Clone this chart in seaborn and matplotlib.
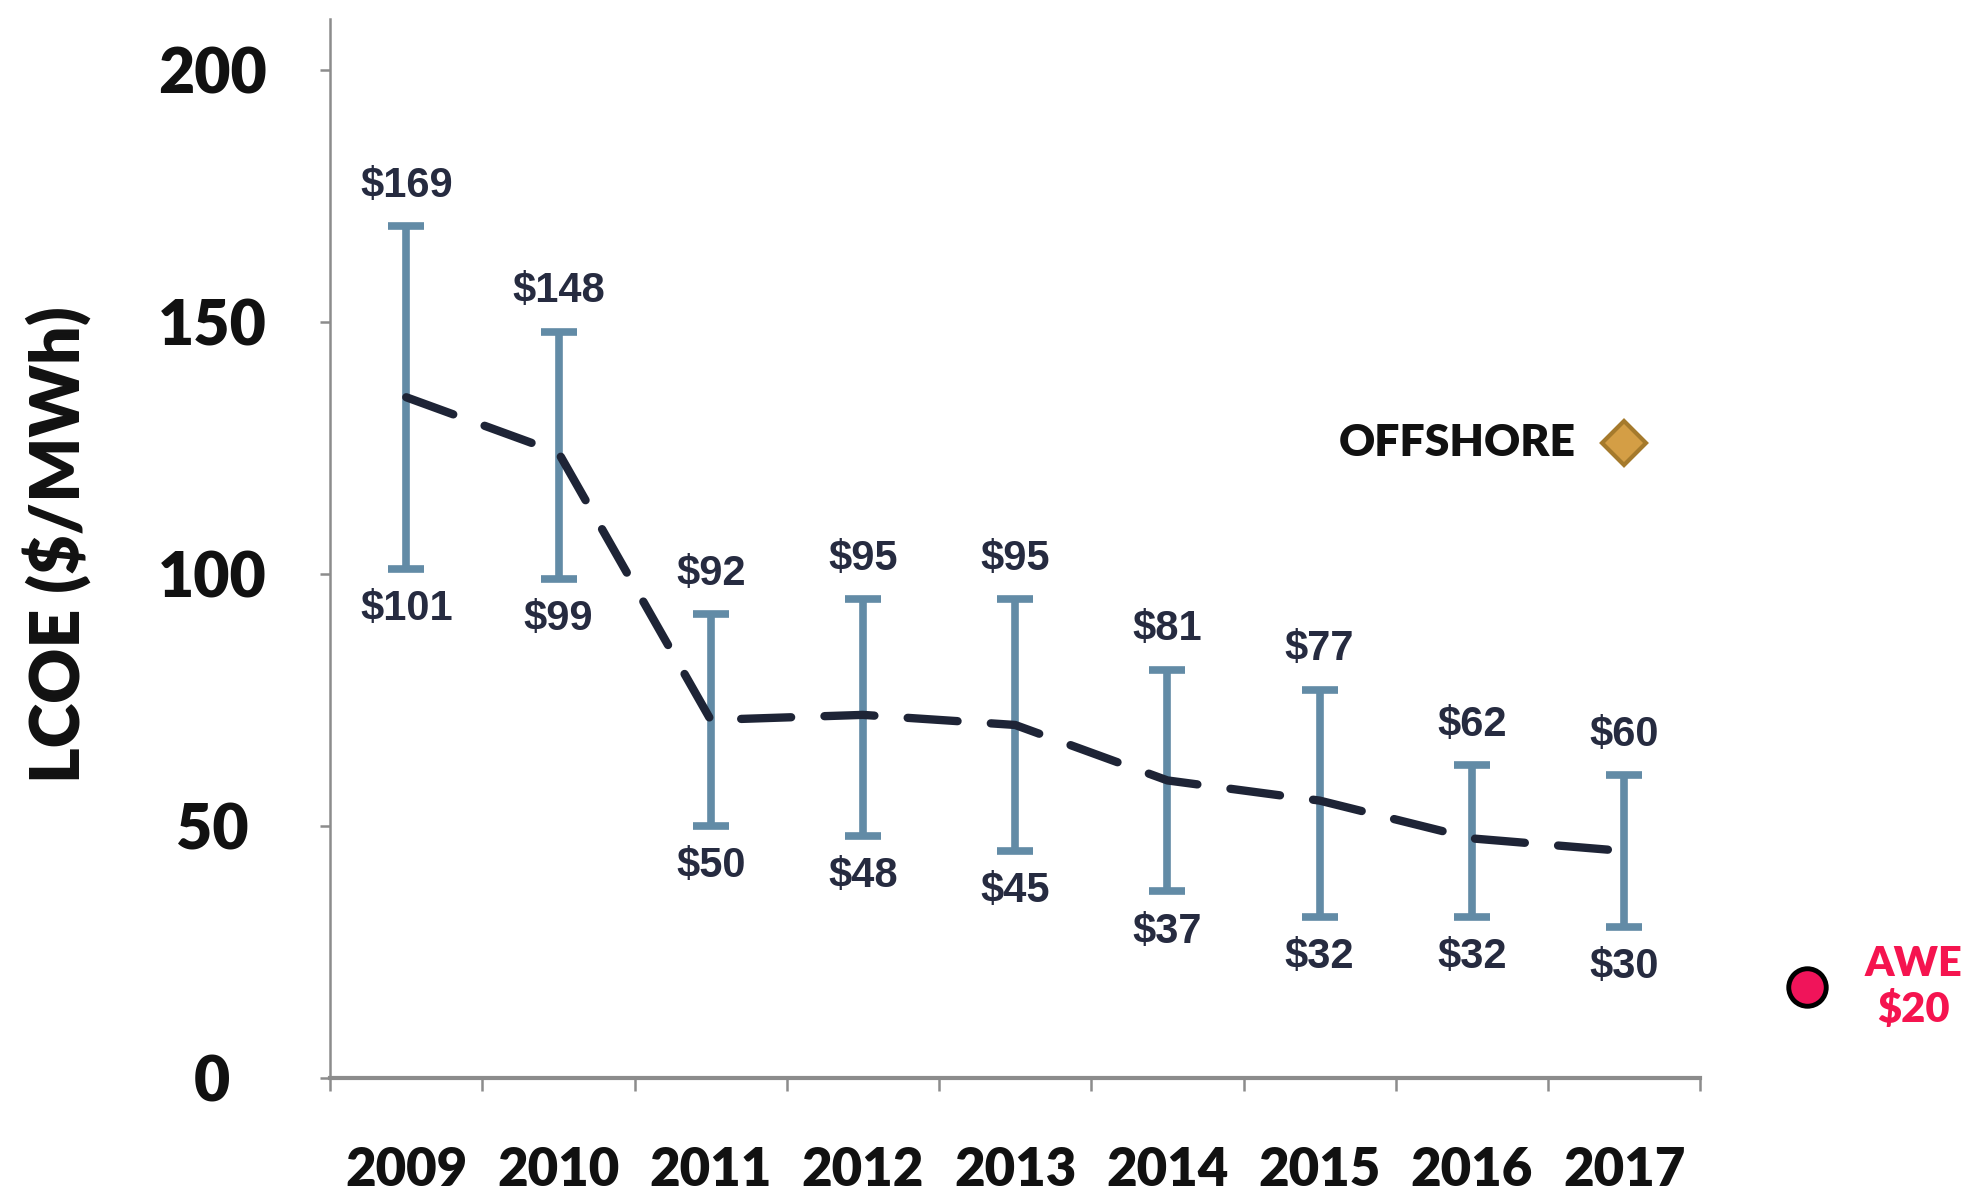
import numpy as np
import pandas as pd
import matplotlib
matplotlib.use('Agg')
import matplotlib.pyplot as plt
import seaborn as sns

# Values
years = ['2009', '2010', '2011', '2012', '2013', '2014', '2015', '2016', '2017']
low = [101, 99, 50, 48, 45, 37, 32, 32, 30]
high = [169, 148, 92, 95, 95, 81, 77, 62, 60]
avg = [135, 124, 71, 72, 70, 59, 55, 47.5, 45]
offshore_value = 126
awe_value = 18
awe_label = 'AWE\n$20'
y_ticks = [0, 50, 100, 150, 200]

sns.set_theme(style='ticks')
plt.rcParams['font.family'] = ['Lato', 'DejaVu Sans']

fig = plt.figure(figsize=(19.77, 11.95), dpi=100)
ax = fig.add_axes([0.167, 0.098, 0.693, 0.886])

pos = np.arange(len(years))
df = pd.DataFrame({'pos': pos, 'avg': avg, 'low': low, 'high': high})
df['mid'] = (df['low'] + df['high']) / 2

# range bars
ax.errorbar(df['pos'], df['mid'], yerr=[df['mid'] - df['low'], df['high'] - df['mid']],
            fmt='none', ecolor='#628BA6', elinewidth=5.5, capsize=13, capthick=5.5, zorder=2)

# average line
sns.lineplot(data=df, x='pos', y='avg', ax=ax, color='#1E2436', lw=6,
             linestyle=(0, (6, 4)), dash_capstyle='round', zorder=3)

# labels at top and bottom of each range
label_font = dict(fontsize=30, fontweight='bold', color='#262B40',
                  family=['Liberation Sans', 'DejaVu Sans'], ha='center', va='center')
for i in pos:
    ax.annotate(f'${high[i]}', (i, high[i]), xytext=(0, 29), textcoords='offset points', **label_font)
    ax.annotate(f'${low[i]}', (i, low[i]), xytext=(0, -29), textcoords='offset points', **label_font)

# offshore marker
ax.plot([pos[-1]], [offshore_value], marker='D', ms=22, mfc='#D49E45', mec='#A57A2C',
        mew=3, clip_on=False, zorder=4)
ax.annotate('OFFSHORE', (pos[-1], offshore_value), xytext=(-35, 0), textcoords='offset points',
            ha='right', va='center', fontsize=32, fontweight='heavy', color='#111111')

# AWE marker, outside the axes
awe_x = pos[-1] + 1.2
ax.plot([awe_x], [awe_value], marker='o', ms=27, mfc='#F0145A', mec='black',
        mew=3.5, clip_on=False, zorder=4)
ax.annotate(awe_label, (awe_x, awe_value), xytext=(77, 0), textcoords='offset points',
            ha='center', va='center', fontsize=30, fontweight='heavy', color='#F5144F',
            linespacing=1.2, annotation_clip=False)

ax.set_xlim(-0.5, 8.5)
ax.set_ylim(0, 210)

ax.set_xticks(pos)
ax.set_xticklabels(years, fontsize=38, fontweight='heavy', color='#111111')
ax.set_xticks(np.arange(-0.5, 9, 1), minor=True)
ax.tick_params(axis='x', which='major', length=0, pad=49)
ax.tick_params(axis='x', which='minor', length=9, width=1.8, color='#8C8C8C', direction='out', bottom=True)

ax.set_yticks(y_ticks)
ax.set_yticklabels([str(t) for t in y_ticks], fontsize=45, fontweight='heavy', color='#111111')
ax.tick_params(axis='y', length=7, width=1.8, color='#8C8C8C', direction='out', pad=78, left=True)
for lbl in ax.get_yticklabels():
    lbl.set_ha('center')

ax.set_xlabel('')
ax.set_ylabel('')
fig.text(57 / 1977, 0.544, 'LCOE ($/MWh)', rotation=90, ha='center', va='center',
         fontsize=49, fontweight='heavy', color='#111111')

sns.despine(ax=ax)
ax.spines['left'].set_color('#8C8C8C')
ax.spines['left'].set_linewidth(1.8)
ax.spines['bottom'].set_color('#8C8C8C')
ax.spines['bottom'].set_linewidth(3)

fig.savefig('out.png', dpi=100)
